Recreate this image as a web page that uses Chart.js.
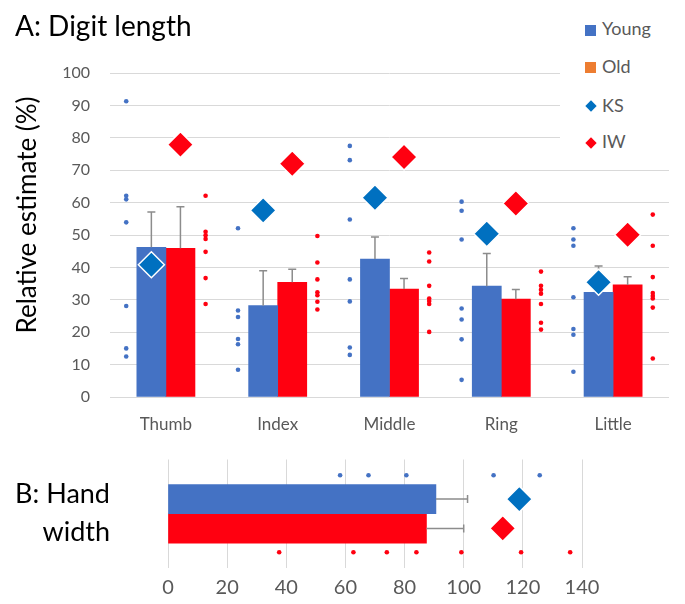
<!DOCTYPE html>
<html>
<head>
<meta charset="utf-8">
<script src="https://cdn.jsdelivr.net/npm/chart.js@4.4.1/dist/chart.umd.min.js"></script>
<style>
  html, body { margin: 0; padding: 0; background: #fff; }
  #wrap { position: relative; width: 685px; height: 604px; overflow: hidden; background: #fff; font-family: Lato, "Open Sans", sans-serif; }
  #cA { position: absolute; left: 0; top: 0; }
  #cB { position: absolute; left: 0; top: 445px; }
  .txt { position: absolute; white-space: nowrap; color: #000; }
  #titleA { left: 15px; top: 11px; font-size: 28px; line-height: 28px; }
  #ytitle { left: -124px; top: 200px; width: 300px; text-align: center; font-size: 26px; line-height: 30px; transform: rotate(-90deg); transform-origin: 150px 15px; }
  #titleB { left: 0; top: 474px; width: 110px; text-align: right; font-size: 27px; line-height: 38px; }
  #legend { position: absolute; left: 560px; top: 0; width: 125px; height: 160px; background: #fff; }
  .li { position: absolute; left: 42px; font-size: 18px; line-height: 18px; color: #595959; }
  .sq { position: absolute; left: 25px; width: 11px; height: 11px; }
  .dm { position: absolute; left: 27px; width: 8px; height: 8px; transform: rotate(45deg); }
</style>
</head>
<body>
<div id="wrap">
  <canvas id="cA" width="685" height="445"></canvas>
  <canvas id="cB" width="685" height="159"></canvas>
  <div id="titleA" class="txt">A: Digit length</div>
  <div id="ytitle" class="txt">Relative estimate (%)</div>
  <div id="titleB" class="txt">B: Hand<br>width</div>
  <div id="legend">
    <span class="sq" style="top:25px;background:#4472C4"></span><div class="li" style="top:19px">Young</div>
    <span class="sq" style="top:62px;background:#ED7D31"></span><div class="li" style="top:57px">Old</div>
    <span class="dm" style="top:102px;background:#0070C0"></span><div class="li" style="top:96px">KS</div>
    <span class="dm" style="top:139px;background:#FF0010"></span><div class="li" style="top:132px">IW</div>
  </div>
</div>
<script>
// ---------- Data ----------
const categories = ['Thumb', 'Index', 'Middle', 'Ring', 'Little'];
const youngMean = [46.2, 28.2, 42.6, 34.2, 32.3];
const youngErr  = [10.9, 10.8, 6.8, 10.1, 8.1];
const oldMean   = [45.9, 35.4, 33.3, 30.2, 34.6];
const oldErr    = [12.8, 4.0, 3.3, 3.0, 2.5];
const ksEstimate = [40.8, 57.6, 61.5, 50.4, 35.4];
const iwEstimate = [77.9, 72.0, 74.1, 59.7, 50.1];
const youngThumb  = [91.3, 62.1, 61.0, 53.9, 28.1, 15.0, 12.5];
const youngIndex  = [52.1, 26.7, 24.7, 17.9, 16.3, 8.4];
const youngMiddle = [77.5, 73.1, 54.8, 36.3, 29.5, 15.3, 13.0];
const youngRing   = [60.3, 57.5, 48.6, 27.3, 23.9, 17.8, 5.3];
const youngLittle = [52.1, 48.6, 46.7, 30.8, 21.0, 19.2, 7.8];
const oldThumb  = [62.1, 51.0, 49.9, 48.8, 44.8, 36.7, 28.7];
const oldIndex  = [49.7, 41.5, 36.3, 32.3, 31.4, 29.4, 27.0];
const oldMiddle = [44.6, 41.8, 34.3, 30.4, 29.6, 28.7, 20.1];
const oldRing   = [38.7, 34.3, 33.1, 31.9, 28.7, 22.9, 20.8];
const oldLittle = [56.3, 46.7, 37.0, 32.1, 31.2, 30.4, 27.6, 11.9];
const yTicks = [0, 100, 10]; // min, max, step

const handCategory = ['Hand width'];
const handYoungMean = [90.6];
const handYoungErr  = [10.7];
const handOldMean   = [87.4];
const handOldErr    = [12.6];
const handKS = [118.8];
const handIW = [113.2];
const handYoungDots = [58.2, 67.8, 80.6, 110.1, 125.7];
const handOldDots   = [37.6, 62.7, 74.0, 84.0, 99.2, 119.4, 136.0];
const xTicksB = [0, 140, 20];

// ---------- Styling / placement within a category (in category units) ----------
const BLUE = '#4472C4', RED = '#FF0010', KSBLUE = '#0070C0', GRID = '#D9D9D9', TICK = '#595959';
const DOT_OFF = 0.355;   // individual dots left/right of group centre
const BAR_OFF_A = 0.13;  // bar / diamond centre offset, panel A
const BAR_OFF_B = 0.135; // bar / diamond centre offset, panel B
const FONT = 'Lato';

const errorBars = {
  id: 'errorBars',
  afterDatasetDraw(chart, args) {
    const ds = chart.data.datasets[args.index];
    if (!ds.errorPlus) return;
    const horiz = chart.options.indexAxis === 'y';
    const vScale = horiz ? chart.scales.x : chart.scales.y;
    const ctx = chart.ctx;
    ctx.save();
    ctx.strokeStyle = '#8C8C8C';
    ctx.lineWidth = 1.5;
    args.meta.data.forEach((bar, i) => {
      const parsed = args.meta.controller.getParsed(i);
      const val = horiz ? parsed.x : parsed.y;
      const p = vScale.getPixelForValue(val + ds.errorPlus[i]);
      ctx.beginPath();
      if (horiz) {
        ctx.moveTo(bar.x, bar.y); ctx.lineTo(p, bar.y);
        ctx.moveTo(p, bar.y - 4); ctx.lineTo(p, bar.y + 4);
      } else {
        ctx.moveTo(bar.x, bar.y); ctx.lineTo(bar.x, p);
        ctx.moveTo(bar.x - 4, p); ctx.lineTo(bar.x + 4, p);
      }
      ctx.stroke();
    });
    ctx.restore();
  }
};

const dotStyle = (color) => ({ type: 'scatter', pointStyle: 'circle', pointRadius: 2.3, pointHoverRadius: 2.3, backgroundColor: color, borderWidth: 0, clip: false });
const diaStyle = (color) => ({ type: 'scatter', pointStyle: 'rectRot', pointRadius: 13, pointHoverRadius: 13, backgroundColor: color, borderColor: '#FFFFFF', borderWidth: 1.5, clip: false });
const barStyle = (color) => ({ type: 'bar', grouped: false, categoryPercentage: 1, barPercentage: 1, backgroundColor: color, borderWidth: 0 });

// ---------- Chart A ----------
const youngGroups = [youngThumb, youngIndex, youngMiddle, youngRing, youngLittle];
const oldGroups = [oldThumb, oldIndex, oldMiddle, oldRing, oldLittle];

new Chart(document.getElementById('cA'), {
  type: 'bar',
  data: {
    labels: categories,
    datasets: [
      Object.assign(diaStyle(KSBLUE), { label: 'KS', xAxisID: 'x2', data: ksEstimate.map((v, i) => ({ x: i - BAR_OFF_A, y: v })) }),
      Object.assign(diaStyle(RED), { label: 'IW', xAxisID: 'x2', data: iwEstimate.map((v, i) => ({ x: i + BAR_OFF_A, y: v })) }),
      Object.assign(dotStyle(BLUE), { label: 'Young individual', xAxisID: 'x2', data: youngGroups.flatMap((vals, i) => vals.map(v => ({ x: i - DOT_OFF, y: v }))) }),
      Object.assign(dotStyle(RED), { label: 'Old individual', xAxisID: 'x2', data: oldGroups.flatMap((vals, i) => vals.map(v => ({ x: i + DOT_OFF, y: v }))) }),
      Object.assign(barStyle(BLUE), { label: 'Young', xAxisID: 'x2', errorPlus: youngErr, data: youngMean.map((v, i) => ({ x: i - BAR_OFF_A, y: v })) }),
      Object.assign(barStyle(RED), { label: 'Old', xAxisID: 'x2', errorPlus: oldErr, data: oldMean.map((v, i) => ({ x: i + BAR_OFF_A, y: v })) })
    ]
  },
  options: {
    responsive: false, animation: false, devicePixelRatio: 1,
    layout: { padding: { top: 73, right: 16, left: 0, bottom: 0 } },
    plugins: { legend: { display: false }, tooltip: { enabled: false } },
    scales: {
      x: {
        type: 'category', offset: true,
        grid: { display: false }, border: { display: false },
        ticks: { color: TICK, font: { family: FONT, size: 17 }, padding: 9 },
        afterFit: (s) => { s.height = 48; }
      },
      x2: { type: 'linear', display: false, offset: false, grid: { offset: false }, min: -0.5, max: categories.length - 0.5, ticks: { stepSize: 1 } },
      y: {
        type: 'linear', min: yTicks[0], max: yTicks[1],
        ticks: { stepSize: yTicks[2], color: TICK, font: { family: FONT, size: 16 }, padding: 20 },
        grid: { color: GRID, lineWidth: 1, drawTicks: false }, border: { display: false },
        afterFit: (s) => { s.width = 110; }
      }
    }
  },
  plugins: [errorBars]
});

// ---------- Chart B ----------
new Chart(document.getElementById('cB'), {
  type: 'bar',
  data: {
    labels: handCategory,
    datasets: [
      Object.assign(diaStyle(KSBLUE), { label: 'KS', indexAxis: 'x', yAxisID: 'y', data: handKS.map((v, i) => ({ x: v, y: i - BAR_OFF_B })) }),
      Object.assign(diaStyle(RED), { label: 'IW', indexAxis: 'x', yAxisID: 'y', data: handIW.map((v, i) => ({ x: v, y: i + BAR_OFF_B })) }),
      Object.assign(dotStyle(BLUE), { label: 'Young individual', indexAxis: 'x', yAxisID: 'y', data: handYoungDots.map(v => ({ x: v, y: -DOT_OFF })) }),
      Object.assign(dotStyle(RED), { label: 'Old individual', indexAxis: 'x', yAxisID: 'y', data: handOldDots.map(v => ({ x: v, y: DOT_OFF })) }),
      Object.assign(barStyle(BLUE), { label: 'Young', yAxisID: 'y', errorPlus: handYoungErr, data: handYoungMean.map((v, i) => ({ x: v, y: i - BAR_OFF_B })) }),
      Object.assign(barStyle(RED), { label: 'Old', yAxisID: 'y', errorPlus: handOldErr, data: handOldMean.map((v, i) => ({ x: v, y: i + BAR_OFF_B })) })
    ]
  },
  options: {
    indexAxis: 'y',
    responsive: false, animation: false, devicePixelRatio: 1,
    layout: { padding: { top: 10, right: 103, left: 168, bottom: 0 } },
    plugins: { legend: { display: false }, tooltip: { enabled: false } },
    scales: {
      x: {
        type: 'linear', min: xTicksB[0], max: xTicksB[1], offset: false,
        ticks: { stepSize: xTicksB[2], color: TICK, font: { family: FONT, size: 20 }, padding: 8 },
        grid: { color: GRID, lineWidth: 1, drawTicks: false, offset: false }, border: { display: false },
        afterFit: (s) => { s.height = 36; }
      },
      y: { type: 'linear', display: false, offset: false, grid: { offset: false }, min: -0.5, max: handCategory.length - 0.5, reverse: true, ticks: { stepSize: 1 } }
    }
  },
  plugins: [errorBars]
});
</script>
</body>
</html>
